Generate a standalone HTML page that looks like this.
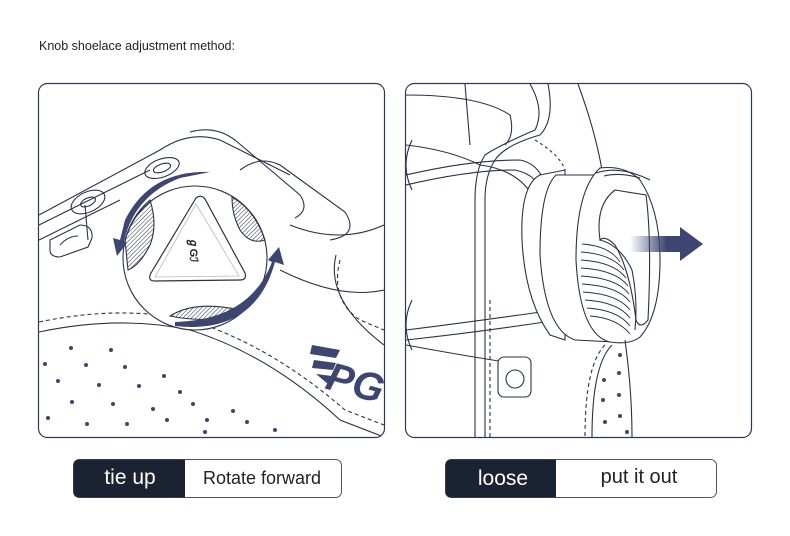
<!DOCTYPE html>
<html><head><meta charset="utf-8"><style>
html,body{margin:0;padding:0;background:#fff;width:790px;height:536px;overflow:hidden}
</style></head><body>
<svg width="790" height="536" viewBox="0 0 790 536" xmlns="http://www.w3.org/2000/svg" font-family="Liberation Sans, sans-serif">
<defs>
<pattern id="hatch" width="3" height="3" patternUnits="userSpaceOnUse" patternTransform="rotate(45)">
<line x1="0" y1="0" x2="0" y2="3" stroke="#2a3148" stroke-width="1"/>
</pattern>
<clipPath id="cl"><rect x="39" y="84" width="345" height="353" rx="8"/></clipPath>
<clipPath id="cr"><rect x="406" y="84" width="344" height="353" rx="8"/></clipPath>
<linearGradient id="ag" x1="0" x2="1"><stop offset="0" stop-color="#3d4670" stop-opacity="0"/><stop offset="0.5" stop-color="#3d4670"/></linearGradient>
</defs>
<text x="39" y="50" font-size="12.5" fill="#222">Knob shoelace adjustment method:</text>

<!-- LEFT PANEL -->
<rect x="38.5" y="83.5" width="346" height="354" rx="9" fill="#fff" stroke="#2c3a55" stroke-width="1.2"/>
<g clip-path="url(#cl)" fill="none" stroke="#2a3148" stroke-width="1.1">
<path d="M39 215 L160 150 Q190 130 220 140 L290 175"/>
<path d="M190 132 Q215 125 235 140 L300 195 Q310 210 295 218"/>
<path d="M240 170 Q260 155 280 165 L345 212 Q360 235 330 240"/>
<path d="M290 225 Q340 245 384 225"/>
<path d="M39 225 L150 170"/>
<path d="M39 240 L120 200"/>
<path d="M280 270 Q340 300 384 290"/>
<path d="M340 260 Q330 300 360 320 L384 330" stroke-dasharray="4 3"/>
<path d="M336 255 Q325 300 384 345"/>
<ellipse cx="162" cy="168" rx="18" ry="9" transform="rotate(-20 162 168)"/>
<ellipse cx="162" cy="168" rx="9" ry="4" transform="rotate(-20 162 168)"/>
<ellipse cx="88" cy="202" rx="18" ry="10" transform="rotate(-25 88 202)"/>
<ellipse cx="88" cy="202" rx="8" ry="4" transform="rotate(-25 88 202)"/>
<path d="M50 240 L80 225 Q93 225 92 238 L88 247 L60 257 Q50 257 50 250 Z"/>
<path d="M60 245 Q68 236 78 236"/>
<path d="M85 205 L88 240"/>
<path d="M39 332 Q120 315 190 330 Q270 355 340 420 L384 437"/>
<path d="M39 322 Q120 305 190 320 Q270 345 345 410 L384 425" stroke-dasharray="4 3"/>
<circle cx="195" cy="258" r="72" fill="#fff"/>
<path d="M125 240 Q132 215 150 200 Q158 225 150 245 Q140 265 128 270 Z" fill="url(#hatch)"/>
<path d="M232 197 Q255 210 265 240 Q250 245 240 230 Q232 215 232 197 Z" fill="url(#hatch)"/>
<path d="M170 316 Q195 300 240 310 Q215 325 170 316 Z" fill="url(#hatch)"/>
<path d="M196 198 Q201 194 205 199 L245 273 Q247 280 240 280 L155 281 Q147 281 151 273 Z" stroke-width="1.2"/>
<path d="M196 204 L239 276 L155 277 Z" stroke="#bbb" stroke-width="0.8"/>
</g>
<text x="195" y="255" font-size="11" font-weight="bold" fill="#222" transform="rotate(90 195 250)" text-anchor="middle">ℊGℐ</text>
<g clip-path="url(#cl)">
<path d="M210 172 Q150 170 125 220 L120 240 L113 238 L117 256 L127 243 L124 241 Q135 195 180 178 Z" fill="#3d4670"/>
<path d="M175 326 Q255 335 275 262 L284 265 L279 247 L268 260 L272 262 Q250 320 175 322 Z" fill="#3d4670"/>
<g fill="#3d4670">
<path d="M312 345 L340 350 L336 358 L310 354 Z"/><path d="M314 360 L336 363 L333 370 L312 368 Z"/><path d="M316 374 L332 376 L328 384 Z"/>
<text x="328" y="392" font-size="40" font-weight="bold" font-style="italic" fill="#3d4670" transform="rotate(15 340 375)">PG</text>
</g>
<g fill="#3d4670">
<circle cx="71" cy="348" r="2"/><circle cx="111" cy="350" r="2"/><circle cx="45" cy="364" r="2"/><circle cx="86" cy="365" r="2"/><circle cx="125" cy="367" r="2"/><circle cx="164" cy="376" r="2"/>
<circle cx="58" cy="381" r="2"/><circle cx="99" cy="385" r="2"/><circle cx="139" cy="386" r="2"/><circle cx="180" cy="392" r="2"/>
<circle cx="72" cy="402" r="2"/><circle cx="113" cy="404" r="2"/><circle cx="153" cy="409" r="2"/><circle cx="193" cy="404" r="2"/><circle cx="233" cy="411" r="2"/>
<circle cx="48" cy="418" r="2"/><circle cx="87" cy="424" r="2"/><circle cx="127" cy="424" r="2"/><circle cx="167" cy="420" r="2"/><circle cx="207" cy="420" r="2"/><circle cx="247" cy="422" r="2"/>
<circle cx="205" cy="432" r="2"/><circle cx="275" cy="430" r="2"/>
</g>
</g>

<!-- RIGHT PANEL -->
<rect x="405.5" y="83.5" width="346" height="354" rx="9" fill="#fff" stroke="#2c3a55" stroke-width="1.2"/>
<g clip-path="url(#cr)" fill="none" stroke="#2a3148" stroke-width="1.1">
<path d="M406 95 Q480 95 510 115 Q515 135 505 145"/>
<path d="M465 84 L470 145"/>
<path d="M530 84 Q545 110 535 130 Q500 145 485 155 Q475 170 475 200 L475 437"/>
<path d="M548 84 Q555 120 540 135 Q505 145 495 160 Q485 175 485 200 L485 437"/>
<path d="M578 84 Q595 130 602 170"/>
<path d="M406 145 Q450 150 480 165 Q520 170 535 200"/>
<path d="M406 175 Q470 160 520 160 Q545 165 548 200"/>
<path d="M406 185 Q470 170 515 170 Q540 175 545 200" />
<path d="M406 330 Q470 322 555 310"/>
<path d="M406 340 Q480 332 558 320"/>
<path d="M406 345 Q460 355 505 362"/>
<path d="M490 300 L490 437" stroke-dasharray="4 3"/>
<path d="M535 140 Q560 155 565 170" stroke-dasharray="3 3"/>
<path d="M412 140 Q400 165 412 190 M412 300 Q400 325 412 350"/>
<rect x="498" y="357" width="33" height="40" rx="6" fill="#fff"/>
<circle cx="515" cy="379" r="9"/>
<path d="M540 175 Q520 185 522 240 Q525 300 550 335 L565 340 L565 170 Z" fill="#fff"/>
<path d="M556 175 Q540 190 540 255 Q545 330 575 340 L615 342 Q595 320 590 260 Q590 200 600 175 Z" fill="#fff"/>
<path d="M600 168 Q625 165 640 180 Q660 210 660 260 Q660 315 640 337 Q630 345 610 342 Q580 335 576 260 Q576 190 600 168 Z" fill="#fff"/>
<path d="M596 173 Q620 165 650 180" />
<path d="M604 176 Q620 172 640 178"/>
<path d="M615 190 L646 195 Q652 240 648 320 Q640 330 636 320 Q630 270 615 245 Q605 235 600 240 Q595 205 615 190 Z"/>
<path d="M600 240 Q620 245 632 270 Q638 300 635 330"/>
<g stroke-width="0.9">
<path d="M582 244 Q610 246 620 262"/><path d="M581 252 Q612 254 624 270"/><path d="M581 260 Q614 262 626 278"/><path d="M581 268 Q616 270 628 286"/><path d="M581 276 Q617 278 629 294"/><path d="M582 284 Q618 286 630 302"/><path d="M583 292 Q618 294 630 310"/><path d="M585 300 Q618 302 630 318"/><path d="M587 308 Q618 310 630 326"/><path d="M590 316 Q617 318 630 334"/>
</g>
<path d="M605 345 Q585 365 585 437" stroke-dasharray="4 3"/>
<path d="M612 345 Q592 365 592 437"/>
<path d="M625 340 Q632 390 632 437"/>
</g>
<g clip-path="url(#cr)" fill="#3d4670">
<circle cx="620" cy="355" r="2"/><circle cx="619" cy="373" r="2"/><circle cx="604" cy="380" r="2"/><circle cx="619" cy="395" r="2"/><circle cx="603" cy="400" r="2"/><circle cx="620" cy="416" r="2"/><circle cx="605" cy="422" r="2"/><circle cx="627" cy="432" r="2"/>
</g>
<path d="M630 236 L680 236 L680 227 L703 244 L680 261 L680 252 L630 252 Z" fill="url(#ag)"/>

<!-- LABELS -->
<rect x="73.5" y="459.5" width="268" height="38" rx="6" fill="#fff" stroke="#555" stroke-width="1"/>
<path d="M79.5 459.5 H185 V497.5 H79.5 Q73.5 497.5 73.5 491.5 V465.5 Q73.5 459.5 79.5 459.5 Z" fill="#1b2232"/>
<text x="130" y="484" font-size="21" fill="#fff" text-anchor="middle">tie up</text>
<text x="262" y="484" font-size="18" fill="#222" text-anchor="middle">Rotate forward</text>
<rect x="445.5" y="459.5" width="271" height="38" rx="6" fill="#fff" stroke="#555" stroke-width="1"/>
<path d="M451.5 459.5 H556 V497.5 H451.5 Q445.5 497.5 445.5 491.5 V465.5 Q445.5 459.5 451.5 459.5 Z" fill="#1b2232"/>
<text x="503" y="485" font-size="21" fill="#fff" text-anchor="middle">loose</text>
<text x="639" y="483" font-size="20" fill="#222" text-anchor="middle">put it out</text>
</svg>
</body></html>
